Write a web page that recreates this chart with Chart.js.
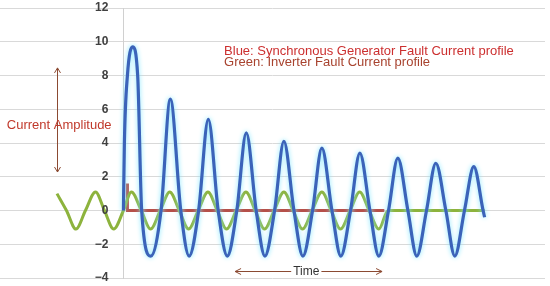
<!DOCTYPE html>
<html>
<head>
<meta charset="utf-8">
<script src="https://cdn.jsdelivr.net/npm/chart.js@4.4.0/dist/chart.umd.min.js"></script>
<style>
  html, body { margin: 0; padding: 0; background: #fff; }
</style>
</head>
<body>
<canvas id="myChart" width="550" height="286"></canvas>
<script>
// time in ms (fault at t = 0), current in p.u.
var blueT = [0, 0.5, 2.1, 4.8, 7.5, 9.6, 14.4, 19.8, 24.7, 30.2, 34.6, 39.6, 44.7, 49.9, 54.7, 59.7, 64.7, 69.9, 74.5, 79.6,
             84.5, 89.8, 94.5, 99.6, 104.5, 109.8, 114.5, 119.6, 124.5, 129.8, 134.5, 139.6, 144.5, 149.8,
             154.5, 159.6, 164.5, 169.8, 174.5, 179.6, 184.5, 189.4, 190.2]
var blueI = [0, 4, 8, 9.7, 8, 0, -2.7, 0, 6.6, 0, -2.7, 0, 5.4, 0, -2.7, 0, 4.6, 0, -2.7, 0,
             4.1, 0, -2.7, 0, 3.7, 0, -2.7, 0, 3.4, 0, -2.7, 0, 3.1, 0,
             -2.7, 0, 2.8, 0, -2.7, 0, 2.6, 0, -0.4]

var greenT = [-35, -30, -25, -20, -14.7, -10, -5.1, 0, 4.2, 9.4, 14.3, 19.4, 24.4, 29.4, 34.3, 39.4,
              44.5, 49.4, 54.3, 59.4, 64.5, 69.4, 74.3, 79.4, 84.5, 89.4, 94.3, 99.4, 104.5,
              109.4, 114.3, 119.4, 124.4, 129.4, 134.5, 139.4, 190.2]
var greenI = [1.0, 0, -1.1, 0, 1.1, 0, -1.1, 0, 1.1, 0, -1.1, 0, 1.1, 0, -1.1, 0,
              1.1, 0, -1.1, 0, 1.1, 0, -1.1, 0, 1.1, 0, -1.1, 0, 1.1,
              0, -1.1, 0, 1.1, 0, -1.1, 0, 0]

var redT = [2.1, 2.1, 137.4]
var redI = [1.6, 0, 0]

var yTicks = [-4, -2, 0, 2, 4, 6, 8, 10, 12]

var legendLines = ['Blue: Synchronous Generator Fault Current profile', 'Green: Inverter Fault Current profile']

function pts(xs, ys) {
    return xs.map(function (x, i) { return { x: x, y: ys[i] } })
}

// light cyan glow round the blue trace
var glow = {
    id: 'glow',
    beforeDatasetDraw: function (chart, args) {
        if (args.index === 0) {
            chart.ctx.save()
            chart.ctx.shadowColor = 'rgba(130, 230, 255, 1)'
            chart.ctx.shadowBlur = 5
        }
    },
    afterDatasetDraw: function (chart, args) {
        if (args.index === 0) chart.ctx.restore()
    }
}

function arrowHead(ctx, x, y, dir) {
    ctx.beginPath()
    if (dir === 'up') { ctx.moveTo(x - 3, y + 5); ctx.lineTo(x, y); ctx.lineTo(x + 3, y + 5) }
    if (dir === 'down') { ctx.moveTo(x - 3, y - 5); ctx.lineTo(x, y); ctx.lineTo(x + 3, y - 5) }
    if (dir === 'left') { ctx.moveTo(x + 6, y - 3); ctx.lineTo(x, y); ctx.lineTo(x + 6, y + 3) }
    if (dir === 'right') { ctx.moveTo(x - 6, y - 3); ctx.lineTo(x, y); ctx.lineTo(x - 6, y + 3) }
    ctx.stroke()
}

// y tick labels sit left of the axis, which crosses at t = 0
var yLabels = {
    id: 'yLabels',
    afterDraw: function (chart) {
        var ctx = chart.ctx
        var xs = chart.scales.x, ys = chart.scales.y
        var ax = xs.getPixelForValue(0)
        ctx.save()
        ctx.font = 'bold 12px "Liberation Sans", Arial, sans-serif'
        ctx.fillStyle = '#404040'
        ctx.textAlign = 'right'
        ctx.textBaseline = 'middle'
        yTicks.forEach(function (v) {
            ctx.fillText(String(v).replace('-', '\u2212'), ax - 15, ys.getPixelForValue(v))
        })
        ctx.restore()
    }
}

var notes = {
    id: 'notes',
    afterDraw: function (chart) {
        var ctx = chart.ctx
        var xs = chart.scales.x, ys = chart.scales.y
        ctx.save()
        ctx.font = '13px "Liberation Sans", Arial, sans-serif'
        ctx.textBaseline = 'middle'
        ctx.textAlign = 'left'
        ctx.fillStyle = '#cc2f2f'
        ctx.fillText(legendLines[0], xs.getPixelForValue(53), ys.getPixelForValue(9.4))
        ctx.fillStyle = '#a8432f'
        ctx.fillText(legendLines[1], xs.getPixelForValue(53), ys.getPixelForValue(8.78))

        // amplitude arrow
        ctx.strokeStyle = '#8b4a32'
        ctx.lineWidth = 1
        var ax = Math.round(xs.getPixelForValue(-35)) + 0.5
        var top = ys.getPixelForValue(8.45), bot = ys.getPixelForValue(2.28)
        ctx.beginPath(); ctx.moveTo(ax, top); ctx.lineTo(ax, bot); ctx.stroke()
        arrowHead(ctx, ax, top, 'up')
        arrowHead(ctx, ax, bot, 'down')

        ctx.fillStyle = '#c0392b'
        ctx.fillText('Current Amplitude', xs.getPixelForValue(-61.4), ys.getPixelForValue(5.05))

        // time arrow
        ctx.font = '12px "Liberation Sans", Arial, sans-serif'
        var ty = Math.round(ys.getPixelForValue(-3.56)) + 0.5
        var l = xs.getPixelForValue(58.8), r = xs.getPixelForValue(136.2)
        var tc = xs.getPixelForValue(96.3)
        var tw = ctx.measureText('Time').width
        ctx.beginPath(); ctx.moveTo(l, ty); ctx.lineTo(tc - tw / 2 - 2, ty); ctx.stroke()
        ctx.beginPath(); ctx.moveTo(tc + tw / 2 + 2, ty); ctx.lineTo(r, ty); ctx.stroke()
        arrowHead(ctx, l, ty, 'left')
        arrowHead(ctx, r, ty, 'right')
        ctx.fillStyle = '#333'
        ctx.textAlign = 'center'
        ctx.fillText('Time', tc, ty)
        ctx.restore()
    }
}

const ctx = document.getElementById('myChart')
new Chart(ctx, {
    type: 'line',
    data: {
        datasets: [{
            label: 'Synchronous Generator',
            data: pts(blueT, blueI),
            borderColor: '#3b63b9',
            borderWidth: 3.2,
            pointRadius: 0,
            cubicInterpolationMode: 'monotone',
            fill: false
        }, {
            label: 'Inverter',
            data: pts(greenT, greenI),
            borderColor: '#8db33d',
            borderWidth: 3,
            pointRadius: 0,
            cubicInterpolationMode: 'monotone',
            fill: false
        }, {
            label: 'Fault',
            data: pts(redT, redI),
            borderColor: '#b5504a',
            borderWidth: 3,
            pointRadius: 0,
            tension: 0,
            fill: false
        }]
    },
    options: {
        responsive: false,
        animation: false,
        layout: { padding: { left: 0, right: 5, top: 8, bottom: 8 } },
        plugins: { legend: { display: false }, tooltip: { enabled: false } },
        scales: {
            x: {
                type: 'linear',
                min: -65,
                max: 222,
                display: false
            },
            y: {
                position: { x: 0 },
                min: -4,
                max: 12,
                afterBuildTicks: function (scale) {
                    scale.ticks = yTicks.map(function (v) { return { value: v } })
                },
                grid: { color: '#d9d9d9', drawTicks: false },
                border: { color: '#d0d0d0' },
                ticks: { display: false }
            }
        }
    },
    plugins: [glow, yLabels, notes]
})
</script>
</body>
</html>
